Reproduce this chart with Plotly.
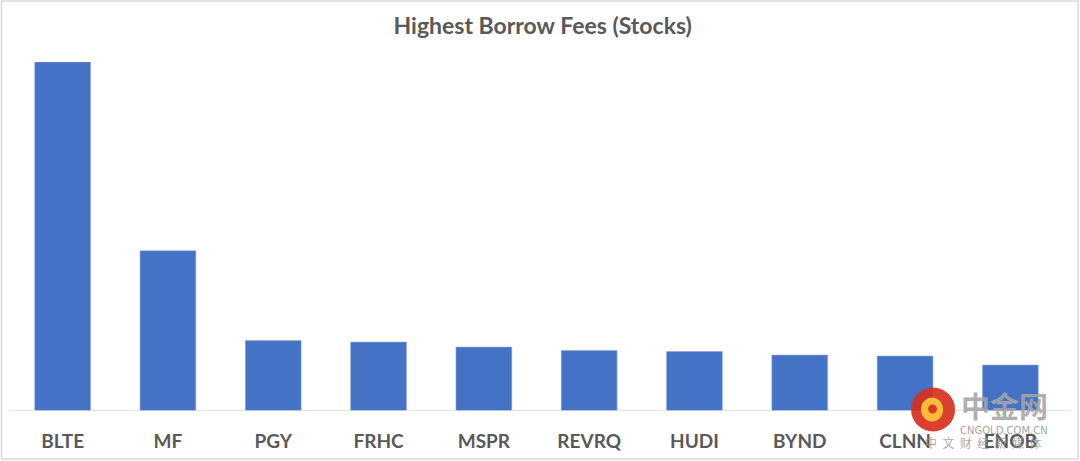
import plotly.graph_objects as go

tickers = ["BLTE", "MF", "PGY", "FRHC", "MSPR", "REVRQ", "HUDI", "BYND", "CLNN", "ENOB"]
borrow_fee = [349.5, 160.5, 70.5, 69.0, 64.0, 60.5, 59.5, 56.0, 55.0, 46.0]
title_text = "Highest Borrow Fees (Stocks)"

W, H = 1080, 461
PW = W - 26.5
PH = 349.5


def px(x):
    return (x - 9.5) / PW


def py(y):
    return (411.5 - y) / PH


fig = go.Figure()
fig.add_trace(go.Bar(
    x=tickers, y=borrow_fee,
    marker=dict(color="#4472C4", line=dict(color="#8FAADC", width=0.6)),
    hoverinfo="x+y",
))

nb = "\u00a0\u00a0"
fig.update_layout(
    width=W, height=H,
    margin=dict(l=9.5, r=17, t=62, b=49.5, pad=0),
    paper_bgcolor="white", plot_bgcolor="white",
    bargap=0.47,
    showlegend=False,
    title=dict(text=title_text, x=0.5025, xanchor="center", y=1 - 26 / H, yanchor="middle",
               font=dict(family="Lato", size=23, color="#595959", weight="bold")),
    xaxis=dict(showgrid=False, zeroline=False, showline=False, ticks="",
               tickfont=dict(family="Lato", size=19, color="#595959", weight="bold"),
               ticklabelstandoff=17),
    yaxis=dict(visible=False, range=[0, PH]),
    shapes=[
        dict(type="line", xref="paper", yref="y", x0=0, x1=px(1070), y0=0, y1=0,
             line=dict(color="#D9D9D9", width=1.3)),
        dict(type="rect", xref="paper", yref="paper",
             x0=px(1), x1=px(1078), y0=py(459.5), y1=py(1),
             line=dict(color="#D9D9D9", width=1.5), fillcolor="rgba(0,0,0,0)"),
        # watermark logo
        dict(type="circle", xref="paper", yref="paper",
             x0=px(911), x1=px(955), y0=py(432), y1=py(388),
             line=dict(width=0), fillcolor="rgba(214,48,30,0.92)"),
        dict(type="circle", xref="paper", yref="paper",
             x0=px(921), x1=px(943), y0=py(422), y1=py(398),
             line=dict(width=0), fillcolor="rgba(250,196,60,0.95)"),
        dict(type="circle", xref="paper", yref="paper",
             x0=px(928), x1=px(937), y0=py(414), y1=py(405),
             line=dict(width=0), fillcolor="rgba(214,48,30,0.92)"),
    ],
    annotations=[
        dict(text="中金网", xref="paper", yref="paper",
             x=px(1004), y=py(405), xanchor="center", yanchor="middle", showarrow=False,
             font=dict(family="Noto Sans CJK SC", size=29, color="rgba(165,165,165,0.9)", weight="bold")),
        dict(text="CNGOLD.COM.CN", xref="paper", yref="paper",
             x=px(1004), y=py(431), xanchor="center", yanchor="middle", showarrow=False,
             font=dict(family="DejaVu Sans", size=10, color="rgba(150,150,150,0.9)")),
        dict(text=nb.join(list("中文财经新媒体")), xref="paper", yref="paper",
             x=px(983), y=py(443), xanchor="center", yanchor="middle", showarrow=False,
             font=dict(family="Noto Sans CJK SC", size=12, color="rgba(150,150,150,0.85)")),
    ],
)

fig.write_html("out.html", config={"displayModeBar": False},
               post_script="document.body.style.margin='0';")
